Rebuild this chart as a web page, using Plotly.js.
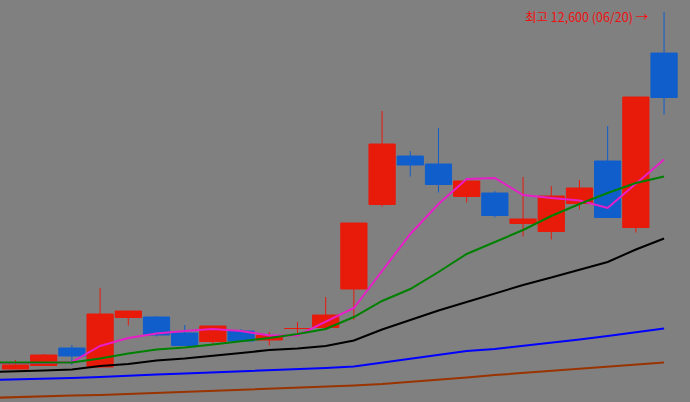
<!DOCTYPE html>
<html>
<head>
<meta charset="utf-8">
<script src="https://cdn.plot.ly/plotly-3.0.1.min.js"></script>
<style>html,body{margin:0;padding:0;background:#808080;}#chart{width:690px;height:402px;}</style>
</head>
<body>
<div id="chart"></div>
<script>
// candle index (last candle = 06/20)
const idx   = [0,1,2,3,4,5,6,7,8,9,10,11,12,13,14,15,16,17,18,19,20,21,22,23];
const open  = [5460,5530,5880,5500,6490,6500,6180,6010,6220,6040,6270,6290,7060,8750,9720,9560,8910,8980,8370,8210,8770,9620,8290,11780];
const high  = [5640,5760,5940,7080,6620,6520,6340,6320,6260,6200,6400,6900,8380,10620,9820,10280,9220,9020,9300,9120,9240,10320,10900,12600];
const low   = [5460,5530,5540,5480,6330,6110,5930,5940,6020,5930,6140,6240,6440,8710,9310,8990,8790,8490,8110,8050,8650,8490,8190,10550];
const close = [5540,5740,5720,6560,6620,6140,5930,6320,6020,6130,6270,6540,8380,9960,9540,9150,9220,8530,8460,8920,9080,8490,10900,10890];

// moving averages (first value is the session before the first visible candle)
const maIdx = [-1,0,1,2,3,4,5,6,7,8,9,10,11,12,13,14,15,16,17,18,19,20,21,22,23];
const ma5   = [5580,5580,5580,5600,5920,6080,6170,6220,6260,6220,6130,6130,6400,6680,7420,8160,8760,9260,9280,8940,8880,8830,8680,9160,9650];
const ma10  = [5590,5590,5590,5590,5670,5770,5850,5890,5950,6010,6080,6160,6260,6500,6820,7060,7400,7760,8000,8240,8520,8760,8980,9180,9310];
const ma20  = [5400,5410,5430,5450,5520,5560,5630,5670,5720,5780,5840,5870,5920,6030,6250,6440,6630,6800,6970,7140,7290,7440,7600,7850,8070];
const ma60  = [5240,5250,5270,5280,5300,5330,5350,5370,5390,5410,5430,5450,5480,5510,5590,5660,5740,5820,5860,5920,5990,6050,6120,6190,6270];
const ma120 = [4880,4900,4920,4930,4940,4960,4980,5000,5020,5040,5060,5080,5100,5130,5160,5200,5240,5290,5340,5380,5420,5470,5510,5550,5590];

const highLabel = '최고 12,600 (06/20) →';

function maTrace(y, color) {
  return {type:'scatter', mode:'lines', x: maIdx, y: y,
          line:{color: color, width: 2}, hoverinfo:'skip', showlegend:false};
}

const data = [
  maTrace(ma120, '#993300'),
  maTrace(ma60, '#0000ff'),
  maTrace(ma20, '#000000'),
  maTrace(ma5, '#e81ec8'),
  maTrace(ma10, '#008000'),
  {type:'candlestick', x: idx, open: open, high: high, low: low, close: close,
   increasing:{line:{color:'#e81a0a', width:1}, fillcolor:'#e81a0a'},
   decreasing:{line:{color:'#105ecc', width:1}, fillcolor:'#105ecc'},
   whiskerwidth:0, hoverinfo:'skip', showlegend:false}
];

const layout = {
  width:690, height:402,
  margin:{l:0,r:0,t:0,b:0,pad:0},
  paper_bgcolor:'#808080', plot_bgcolor:'#808080',
  showlegend:false,
  boxgap:0.07, boxgroupgap:0,
  xaxis:{range:[-0.55,23.92], visible:false, showgrid:false, zeroline:false, rangeslider:{visible:false}, fixedrange:true},
  yaxis:{range:[4800,12840], visible:false, showgrid:false, zeroline:false, fixedrange:true},
  annotations:[{
    x: idx[idx.length-1], y: high[high.length-1], xref:'x', yref:'y',
    xanchor:'right', yanchor:'middle', xshift:-13, yshift:-4,
    text: highLabel, showarrow:false,
    font:{family:'"Noto Sans CJK KR", "DejaVu Sans", sans-serif', size:12.5, color:'#f01010'}
  }]
};

Plotly.newPlot('chart', data, layout, {staticPlot:true, displayModeBar:false});
</script>
</body>
</html>
